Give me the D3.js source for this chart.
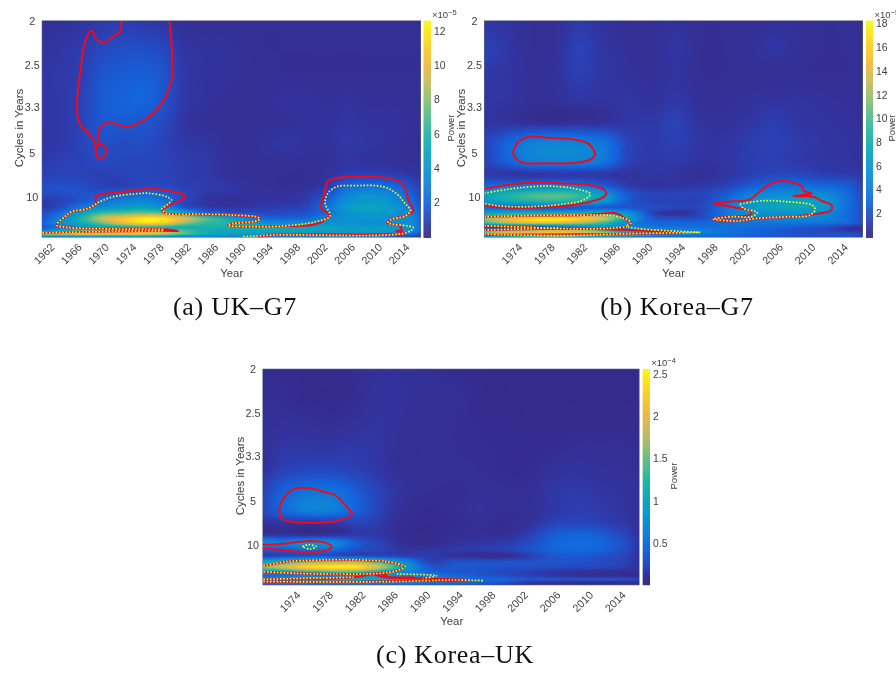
<!DOCTYPE html>
<html><head><meta charset="utf-8">
<script src="https://cdnjs.cloudflare.com/ajax/libs/d3/7.8.5/d3.min.js"></script>
<style>
html,body{margin:0;padding:0;background:#fff;overflow:hidden}
#wrap{position:relative;width:896px;height:673px;filter:blur(0.4px)}
canvas{position:absolute}
svg{position:absolute;left:0;top:0}
</style></head><body><div id="wrap"></div>
<script>
// Frequency rows (cycles per year) shared by the three power grids
const freqRows=[.5,.44,.38,.32,.27,.22,.18,.15,.125,.105,.09,.075,.062,.05,.04,.03,.022,.015,.008];
const periodTicks=[2,2.5,3.3,5,10];

// (a) UK-G7
const ukYears=[1960,1963,1966,1969,1972,1975,1978,1981,1984,1987,1990,1993,1996,1999,2002,2005,2008,2011,2014,2016];
const ukTicks=[1962,1966,1970,1974,1978,1982,1986,1990,1994,1998,2002,2006,2010,2014];
const ukBarTicks=[2,4,6,8,10,12];
const ukPower=[
[.4,.45,.55,.7,.8,.7,.6,.4,.3,.3,.3,.3,.3,.3,.3,.3,.3,.3,.3,.3],
[.5,.6,.8,1.1,1.3,1.3,1.1,.6,.5,.5,.4,.3,.3,.3,.3,.3,.3,.3,.3,.3],
[.6,.7,.9,1.5,1.7,1.8,1.5,.7,.5,.5,.4,.35,.3,.3,.3,.3,.3,.3,.3,.3],
[.6,.7,1.0,1.7,1.9,2.0,1.5,.7,.5,.4,.4,.4,.5,.5,.4,.5,.4,.4,.4,.35],
[.6,.7,1.0,1.6,1.7,1.6,1.2,.6,.4,.4,.4,.4,.4,.5,.5,.6,.5,.5,.4,.35],
[.6,.7,1.0,1.4,1.2,1.3,1.0,.7,.6,.4,.35,.5,.6,.5,.5,.7,.6,.5,.4,.35],
[.7,.9,1.0,1.2,1.1,1.1,1.0,.8,.7,.5,.35,.35,.4,.35,.4,.6,.5,.5,.4,.4],
[.9,1.0,1.0,.9,1.0,1.1,1.0,.8,.7,.5,.35,.3,.3,.3,.5,.9,1.0,.9,.7,.5],
[1.3,1.4,1.3,1.0,.9,1.2,1.2,.9,.8,.7,.5,.4,.3,.4,.8,2.0,2.3,2.2,1.4,.7],
[1.2,1.3,1.5,1.6,1.9,2.1,2.0,1.2,.7,.6,.5,.5,.5,.7,1.4,3.2,3.7,3.4,2.0,1.0],
[.7,1.0,1.5,2.4,3.0,3.3,2.6,1.2,.6,.4,.4,.6,.6,.8,2.0,3.7,4.2,3.9,2.5,1.2],
[.7,1.3,2.8,3.7,4.3,4.7,3.8,1.6,.9,.7,.7,.8,.9,1.1,2.5,4.3,4.8,4.4,3.0,1.5],
[1.2,2.4,4.6,6.6,7.2,7.6,7.2,5.2,2.6,1.7,1.4,1.2,1.3,1.5,2.5,3.8,4.3,4.0,3.2,1.8],
[1.5,3.2,5.8,9,10.5,12,11.8,9.5,7.2,5.3,3.2,2.2,2.0,2.2,3.2,3.8,3.9,3.8,3.5,2.0],
[1.8,3.6,5.3,7.5,10,11.5,11,8.3,6.5,6.0,5.2,3.7,3.5,3.6,3.8,3.9,3.8,3.7,3.5,2.2],
[1.5,3.0,4.2,5.2,5.6,6.2,6.0,5.5,5.7,5.6,5.4,5.1,4.9,4.7,4.6,4.5,4.4,4.2,3.6,2.4],
[3,5,7,8,8.5,8.5,8,7,5.5,5,5,5,5,4.8,4.6,4.6,4.5,4.2,3.6,2.0],
[8,9,10,10,10,10,9,7,5.5,4.6,4.4,4,3.8,3.8,3.7,3.7,3.6,3,2.5,1.5],
[3,3,3.5,3.5,3.5,3.5,3,3,3,3,3,3,3,3,3,3,3,2,1,.5]];
const ukRed=[
[[1971.9,.5],[1971.6,.473],[1970.7,.465],[1969.6,.452],[1969,.45],[1968.2,.458],[1967.5,.477],[1966.9,.467],[1966.3,.433],[1965.8,.38],[1965.4,.327],[1965.4,.289],[1965.8,.265],[1967.3,.24],[1968.1,.217],[1968.3,.191],[1969,.186],[1969.5,.195],[1969.5,.214],[1968.7,.221],[1968.5,.244],[1969.2,.265],[1970.4,.268],[1972.4,.259],[1974.1,.265],[1976.5,.289],[1978.2,.323],[1979.2,.365],[1979.2,.448],[1978.9,.5]],
[[1968.7,.221],[1968.1,.214],[1968.3,.191]],
[[1960.3,.0182],[1978,.0227],[1980.2,.022],[1978,.0258],[1968.7,.0273],[1963.9,.0303],[1962.4,.0356],[1963.6,.0545],[1964.6,.0659],[1967,.0735],[1968.1,.0848],[1968.1,.1],[1970.7,.1091],[1973.6,.1136],[1976,.1182],[1979.5,.1114],[1980.9,.1053],[1981.2,.0985],[1980,.0886],[1978.7,.0788],[1977.8,.0682],[1978.5,.0621],[1983.4,.0606],[1988.2,.0583],[1991.9,.053],[1992.1,.0485],[1991.2,.0432],[1988.2,.0394],[1987.5,.0356],[1988.2,.0333],[1995.6,.0333],[2000.4,.0379],[2002.1,.053],[2002.4,.0583],[2001.7,.0659],[2001,.0788],[2001.3,.0924],[2001.7,.1152],[2002.1,.1341],[2003.9,.1439],[2006.8,.1455],[2010.2,.1439],[2012.6,.1341],[2013.4,.1189],[2013.9,.0924],[2014.6,.0682],[2013.6,.0583],[2011.4,.0485],[2010.8,.0409],[2012.6,.0341],[2012.9,.0242],[2012.1,.022],[2013.4,.0167],[1994.1,.0129],[1991.7,.0091]]];
const ukYellow=[
[[1960.3,.0182],[1978,.0227]],
[[1978,.0258],[1968.7,.0273],[1963.9,.0303],[1962.4,.0356],[1963.6,.0545],[1964.6,.0659],[1967,.0735],[1968.7,.0886],[1970.7,.1],[1973.6,.1061],[1976,.1076],[1978.5,.1],[1979.2,.0924],[1978.7,.0833],[1977.8,.0712],[1978.5,.0621],[1983.4,.0606],[1988.2,.0583],[1991.9,.053],[1992.1,.0485],[1991.2,.0432],[1988.2,.0394],[1987.5,.0356],[1988.2,.0333],[1995.6,.0333],[2000.4,.0432],[2002.4,.0561],[2001.7,.0848],[2002.1,.1076],[2003.4,.1227],[2005.8,.125],[2010.2,.1227],[2012.1,.1076],[2013.4,.0848],[2014.2,.0682],[2013.4,.0561],[2011.4,.0485],[2010.9,.0409],[2014.6,.0295],[2013.6,.0182],[1994.6,.0129],[1989.7,.0091]]];

// (b) Korea-G7
const koreaYears=[1969,1972,1975,1978,1981,1984,1987,1990,1993,1996,1999,2002,2005,2008,2011,2014,2016];
const koreaTicks=[1974,1978,1982,1986,1990,1994,1998,2002,2006,2010,2014];
const koreaBarTicks=[2,4,6,8,10,12,14,16,18];
const koreaPower=[
[.9,.8,.55,.55,1.0,.7,.55,.55,.7,.45,.45,.45,.6,.6,.45,.45,.45],
[1.4,1.0,.55,.6,1.4,.9,.6,.55,.9,.45,.45,.6,.9,.6,.45,.45,.45],
[1.0,.9,.6,.7,1.3,.9,.7,.6,.8,.45,.45,.45,.5,.45,.45,.45,.45],
[.9,.9,.6,.6,.9,.8,.9,.7,1.0,.6,.6,.7,.8,.8,.7,.6,.5],
[.9,.8,.6,.5,.6,.7,1.0,1.0,1.4,.8,.7,.9,1.2,.9,.8,.7,.6],
[1.3,2.8,4.3,4.7,4.5,3.8,1.6,1.1,1.3,.9,.9,1.2,1.4,1.1,.9,.8,.7],
[1.3,2.6,4.2,4.5,4.5,3.8,1.5,1.0,1.1,.8,.9,1.2,1.3,1.1,.9,.8,.7],
[1.2,1.0,.9,1.0,1.1,1.0,.8,.9,.8,.6,.9,1.3,1.7,1.7,1.3,1.2,.9],
[3.0,3.5,4.0,4.3,3.8,2.6,1.2,.8,.9,1.0,1.4,2.4,3.3,3.4,3.0,2.5,1.4],
[6.5,8,9.5,10,9,6,2.5,1.5,1.5,1.6,2.5,4.3,5,5.2,5,3.2,1.7],
[6,7.5,8.5,9,8,6,2.5,1.5,1.4,1.5,3,5.5,6.5,6.8,6,3.5,1.8],
[3.0,3,3,2.5,2.5,2.5,2.3,2,1.6,1.7,3.5,5.8,7,7.2,6,3.5,1.8],
[7,7.5,8,8,8,8,5.5,1.5,.6,1.6,3.8,5.2,5.5,5.5,5,3.2,1.8],
[11,13.5,16.5,17.5,16,13.5,7,2.5,2.0,2.0,3.5,4.5,4.7,4.7,4.5,3.2,1.8],
[9,12,14,14,12.5,9.5,5,3,3,3,3.6,3.8,3.8,3.8,3.7,3,1.8],
[1.5,1.5,2,3,5,6,5,4,3.6,3.5,3.5,3.3,3,2.5,2,1,.7],
[9,11,12.5,13.5,13,10,6,6,5,4.5,3.6,3,2.5,2,1.7,1,.7],
[10,13,14,15,14,12,9,6,5,4,3.5,3,2.5,2,2,2,1.5],
[5,7,9,10,8,6,5,4,3,3,3,2.5,2.2,2,2,2,1.5]];
const koreaRed=[
[[1973,.206],[1973.6,.225],[1974.8,.236],[1977.1,.234],[1980.7,.229],[1982.2,.22],[1983,.198],[1982.6,.186],[1980.7,.177],[1976.7,.176],[1974,.178],[1973,.195],[1973,.206]],
[[1969.4,.1167],[1972.2,.1265],[1975.8,.132],[1979.1,.13],[1982.4,.1265],[1984,.117],[1984.4,.109],[1984.1,.1],[1982.4,.0886],[1979.1,.0788],[1975,.075],[1971.3,.0758],[1969.4,.081]],
[[1969.4,.0545],[1975.4,.0568],[1981.6,.0583],[1983.6,.0606],[1985.2,.0636],[1986.1,.0583],[1986.9,.047],[1987.4,.0409],[1986.9,.0318],[1984.8,.028],[1979.1,.0273],[1975,.0303],[1969.4,.0341]],
[[1969.4,.0242],[1978.7,.0273],[1987.3,.0242],[1990.6,.0212],[1993.8,.0182],[1990.6,.0167],[1981.6,.0144],[1969.4,.0136]],
[[1997.5,.0833],[1999.2,.0886],[2002,.0939],[2003.4,.115],[2005.1,.134],[2006.9,.134],[2008.4,.1227],[2008.6,.1136],[2009.6,.1076],[2007.3,.1015],[2009.8,.1],[2010.8,.0902],[2012,.081],[2012,.0697],[2010.6,.0621],[2006.9,.0545],[2002.8,.0508],[2000.4,.0447],[1997.9,.047],[1997.5,.0508],[2000,.0545],[2002,.0583],[2002.2,.0659],[2000,.0758],[1997.5,.0833]]];
const koreaYellow=[
[[1969.4,.1076],[1972.2,.1167],[1976.7,.124],[1980.3,.119],[1982.4,.106],[1981.6,.0924],[1979.1,.0833],[1975,.0773],[1971.3,.0788],[1969.4,.0848]],
[[1969.4,.0545],[1975.4,.0568],[1981.6,.0583],[1984.4,.0583],[1986.5,.051],[1987.4,.0409],[1986.9,.0333],[1988.1,.028],[1991.8,.0227],[1995.9,.0189]],
[[1969.4,.0341],[1975,.0303],[1979.1,.0273],[1984.8,.028],[1986.9,.0318]],
[[1969.4,.0242],[1978.7,.0288]],
[[1969.4,.0144],[1980.3,.0121],[1985.7,.0152],[1995.9,.0189]],
[[2000.8,.0833],[2003.7,.0909],[2006.5,.0886],[2009.6,.081],[2010,.0712],[2009.4,.0583],[2006.9,.0545],[2002.8,.0508],[2000.4,.0447],[1997.5,.0493],[2000,.0545],[2002.2,.0545],[2002.9,.0644],[2001.2,.0735],[2000.8,.0833]]];

// (c) Korea-UK
const koreaUkBarTicks=[.5,1,1.5,2,2.5];
const koreaUkPower=[
[.05,.05,.04,.04,.07,.10,.09,.07,.05,.04,.03,.03,.03,.03,.03,.03,.03],
[.07,.06,.03,.03,.06,.11,.10,.09,.08,.04,.03,.03,.03,.03,.03,.03,.03],
[.09,.09,.09,.07,.10,.12,.09,.08,.07,.05,.04,.03,.03,.03,.03,.03,.03],
[.09,.14,.14,.14,.15,.13,.07,.09,.07,.06,.05,.05,.05,.08,.08,.08,.05],
[.1,.2,.24,.24,.2,.13,.08,.09,.08,.07,.05,.05,.1,.11,.1,.1,.07],
[.2,.4,.52,.52,.36,.2,.1,.07,.06,.08,.08,.08,.14,.16,.13,.11,.08],
[.22,.45,.62,.6,.4,.2,.08,.05,.07,.1,.08,.08,.14,.18,.16,.12,.08],
[.1,.14,.12,.15,.22,.16,.05,.04,.05,.08,.05,.1,.2,.24,.2,.14,.09],
[.08,.1,.05,.08,.15,.13,.04,.03,.07,.08,.08,.18,.34,.4,.35,.22,.1],
[.7,.6,.75,.7,.35,.2,.07,.04,.1,.13,.16,.25,.4,.47,.42,.28,.12],
[.4,.4,.5,.5,.3,.22,.13,.13,.15,.17,.2,.3,.4,.45,.4,.27,.12],
[.2,.25,.3,.3,.27,.25,.2,.17,.1,.06,.04,.18,.32,.35,.3,.22,.1],
[1.0,1.2,1.5,1.6,1.6,1.2,.7,.2,.3,.3,.3,.3,.3,.3,.27,.2,.1],
[1.5,1.9,2.3,2.45,2.4,1.8,.9,.35,.33,.32,.3,.28,.27,.25,.23,.17,.1],
[.9,1.0,1.3,1.5,1.5,1.1,.7,.4,.33,.3,.25,.2,.15,.12,.1,.08,.06],
[.4,.5,.6,.65,.7,.8,.7,.6,.45,.35,.28,.2,.15,.1,.08,.06,.05],
[.8,1.0,1.1,1.1,1.1,1.0,.8,.65,.55,.45,.4,.33,.3,.3,.3,.28,.2],
[.5,.6,.7,.75,.75,.7,.65,.55,.5,.4,.3,.15,.1,.07,.06,.06,.05],
[.3,.3,.3,.3,.3,.3,.3,.25,.25,.2,.15,.1,.08,.07,.07,.07,.07]];
const koreaUkRed=[
[[1971.5,.172],[1971.5,.1871],[1972.4,.2159],[1973.4,.2288],[1975.2,.2288],[1976.9,.2212],[1978.3,.2136],[1979.9,.1833],[1980.4,.1705],[1978.5,.1545],[1973,.153],[1971.7,.1606],[1971.5,.172]],
[[1969.4,.1008],[1971.5,.1023],[1975.2,.1091],[1977.1,.1053],[1977.9,.0962],[1977.3,.0886],[1975.2,.0833],[1972.4,.0871],[1969.4,.0924]],
[[1969.5,.0523],[1972.4,.0621],[1976.5,.0659],[1981.4,.0659],[1984.7,.0621],[1986.9,.0508],[1985.9,.0417],[1983.8,.0356],[1978.5,.0341],[1973.6,.0356],[1969.5,.0394]],
[[1969.5,.022],[1980.6,.0265],[1983,.0341],[1984.7,.0341],[1984.2,.028],[1988.8,.0242],[1994.9,.0205],[1988.8,.0189],[1980.6,.0167],[1969.5,.0167]],
[[1983,.0341],[1984.2,.028],[1988,.0265]]];
const koreaUkYellow=[
[[1974.3,.0962],[1975,.1008],[1976,.0962],[1975.2,.0909],[1974.3,.0962]],
[[1969.5,.0523],[1972.4,.0621],[1976.5,.0659],[1981.4,.0659],[1984.7,.0621],[1986.9,.0508],[1985.9,.0417],[1983.8,.0356],[1978.5,.0341],[1973.6,.0356],[1969.5,.0394]],
[[1985.9,.0341],[1990.8,.0303],[1989.2,.0242]],
[[1969.5,.022],[1980.6,.0265]],
[[1969.5,.0167],[1984.7,.0167],[1992.9,.0205],[1996.7,.0189]]];

const captions=["(a) UK–G7","(b) Korea–G7","(c) Korea–UK"];
const parulaStops=[0,.04,.08,.16,.24,.32,.40,.48,.56,.64,.72,.80,.90,1];
const parulaColors=["#352a87","#33319b","#2a42b8","#1464dc","#1080d8","#0a96d0","#0ca8b8","#22b5a4","#55bc8c","#90bf72","#c9bc5c","#f0b93e","#fad423","#f9fb0e"];

const colorMap=d3.scaleLinear().domain(parulaStops).range(parulaColors).clamp(true);
const panels=[
 {years:ukYears,power:ukPower,ticks:ukTicks,red:ukRed,yellow:ukYellow,barTicks:ukBarTicks,xDom:[1960.24,2015.69],yDom:[.5,.0077],
  L:42,R:420.7,T:20.7,B:237.3,barL:423.5,barR:431,barDom:[-.03,12.6],exp:"-5",powX:454,capX:235,capY:315,titleX:18,yearX:231.7},
 {years:koreaYears,power:koreaPower,ticks:koreaTicks,red:koreaRed,yellow:koreaYellow,barTicks:koreaBarTicks,xDom:[1969.41,2015.84],yDom:[.5,.0077],
  L:484.3,R:862.7,T:20.7,B:237.3,barL:866,barR:873,barDom:[-.03,18.25],exp:"-5",powX:895,capX:677,capY:315,titleX:460,yearX:673.5},
 {years:koreaYears,power:koreaUkPower,ticks:koreaTicks,red:koreaUkRed,yellow:koreaUkYellow,barTicks:koreaUkBarTicks,xDom:[1969.41,2015.73],yDom:[.5,.0091],
  L:262.7,R:639.3,T:369,B:585,barL:642.7,barR:650,barDom:[.0035,2.556],exp:"-4",powX:677,capX:455,capY:663,titleX:239,yearX:451.7}];

const wrap=d3.select("#wrap");
const svg=wrap.append("svg").attr("width",896).attr("height",673).style("z-index",2);
const sansFont="'Liberation Sans',Arial,sans-serif";
const ink="#404040";
function cr(p0,p1,p2,p3,t){return .5*((2*p1)+(-p0+p2)*t+(2*p0-5*p1+4*p2-p3)*t*t+(-p0+3*p1-3*p2+p3)*t*t*t);}
panels.forEach((p,pi)=>{
  const x=d3.scaleLinear().domain(p.xDom).range([p.L,p.R]);
  const y=d3.scaleLinear().domain(p.yDom).range([p.T,p.B]);
  const color=d3.scaleLinear().domain(p.barDom).range([0,1]);
  const ix=d3.scaleLinear().domain(p.years).range(d3.range(p.years.length)).clamp(true);
  const iy=d3.scaleLinear().domain(freqRows).range(d3.range(freqRows.length)).clamp(true);
  const W=Math.round(p.R-p.L),H=Math.round(p.B-p.T);
  const cv=wrap.append("canvas").attr("width",W).attr("height",H).style("left",p.L+"px").style("top",p.T+"px").style("width",(p.R-p.L)+"px").style("height",(p.B-p.T)+"px").style("z-index",1).node();
  const ctx=cv.getContext("2d");const img=ctx.createImageData(W,H);
  const nr=freqRows.length,nc=p.years.length;
  const at=(r,c)=>p.power[Math.max(0,Math.min(nr-1,r))][Math.max(0,Math.min(nc-1,c))];
  for(let j=0;j<H;j++){
    const fy=iy(y.invert(p.T+(j+.5)*(p.B-p.T)/H));const r0=Math.floor(fy),tr=fy-r0;
    for(let i=0;i<W;i++){
      const fx=ix(x.invert(p.L+(i+.5)*(p.R-p.L)/W));const c0=Math.floor(fx),tc=fx-c0;
      const col=[-1,0,1,2].map(d=>cr(at(r0+d,c0-1),at(r0+d,c0),at(r0+d,c0+1),at(r0+d,c0+2),tc));
      const v=cr(col[0],col[1],col[2],col[3],tr);
      const rgb=d3.rgb(colorMap(color(v)));const k=(j*W+i)*4;
      img.data[k]=rgb.r;img.data[k+1]=rgb.g;img.data[k+2]=rgb.b;img.data[k+3]=255;
    }
  }
  ctx.putImageData(img,0,0);

  const g=svg.append("g");
  const clipId="clip"+pi;
  svg.append("clipPath").attr("id",clipId).append("rect").attr("x",p.L).attr("y",p.T).attr("width",p.R-p.L).attr("height",p.B-p.T);
  const line=d3.line().x(d=>x(d[0])).y(d=>y(d[1])).curve(d3.curveCatmullRom.alpha(.5));
  g.append("g").attr("clip-path",`url(#${clipId})`).selectAll("path").data(p.red).join("path").attr("d",line).attr("fill","none").attr("stroke","#f00a1c").attr("stroke-width",2);
  g.append("g").attr("clip-path",`url(#${clipId})`).selectAll("path").data(p.yellow).join("path").attr("d",line).attr("fill","none").attr("stroke","#fbf522").attr("stroke-width",1.7).attr("stroke-dasharray","1.6 1.7");
  g.append("rect").attr("x",p.L).attr("y",p.T).attr("width",p.R-p.L).attr("height",p.B-p.T).attr("fill","none").attr("stroke","#5a6a86").attr("stroke-width",.6);
  const axX=d3.axisBottom(x).tickValues(p.ticks).tickSize(0).tickFormat(d3.format("d"));
  const gx=g.append("g").attr("transform",`translate(0,${p.B})`).call(axX);
  gx.select(".domain").remove();
  gx.selectAll("text").attr("font-family",sansFont).attr("font-size",10.8).attr("fill",ink)
    .attr("text-anchor","end").attr("transform","translate(-2,8) rotate(-45)").attr("dx",0).attr("dy",".35em").attr("y",0);
  const axY=d3.axisLeft(y).tickValues(periodTicks.map(d=>1/d)).tickSize(0).tickFormat((d,i)=>periodTicks[i]);
  const gy=g.append("g").attr("transform",`translate(${p.L-9.8},0)`).call(axY);
  gy.select(".domain").remove();
  gy.selectAll("text").attr("font-family",sansFont).attr("font-size",10.8).attr("fill",ink).attr("x",0).attr("text-anchor","middle");
  g.append("text").attr("x",p.yearX).attr("y",p.B+40).attr("text-anchor","middle").attr("font-family",sansFont).attr("font-size",11.4).attr("fill",ink).text("Year");
  g.append("text").attr("transform",`translate(${p.titleX+4.5},${(p.T+p.B)/2-1}) rotate(-90)`).attr("text-anchor","middle").attr("font-family",sansFont).attr("font-size",11.5).attr("fill",ink).text("Cycles in Years");
  const by=d3.scaleLinear().domain(p.barDom).range([p.B,p.T]);
  g.append("g").selectAll("rect").data(d3.range(p.T,p.B,1)).join("rect").attr("x",p.barL).attr("y",d=>d).attr("width",p.barR-p.barL).attr("height",1.2)
    .attr("fill",d=>colorMap(color(by.invert(d+.5))));
  const axB=d3.axisRight(by).tickValues(p.barTicks).tickSize(0).tickFormat(d=>d);
  const gb=g.append("g").attr("transform",`translate(${p.barR},0)`).call(axB);
  gb.select(".domain").remove();
  gb.selectAll("text").attr("font-family",sansFont).attr("font-size",10.4).attr("fill",ink).attr("x",3);
  const ex=g.append("text").attr("x",p.barL+8.5).attr("y",p.T-3).attr("font-family",sansFont).attr("font-size",9.5).attr("fill",ink);
  ex.append("tspan").text("×10");
  ex.append("tspan").attr("dy",-3).attr("font-size",7.5).text("−"+p.exp.slice(1));
  g.append("text").attr("transform",`translate(${p.powX},${(p.T+p.B)/2-1}) rotate(-90)`).attr("text-anchor","middle").attr("font-family",sansFont).attr("font-size",9.5).attr("fill",ink).text("Power");
  g.append("text").attr("x",p.capX).attr("y",p.capY).attr("text-anchor","middle").attr("font-family","'Liberation Serif',serif").attr("font-size",26).attr("letter-spacing",.7).attr("fill","#111").text(captions[pi]);
});
</script></body></html>
